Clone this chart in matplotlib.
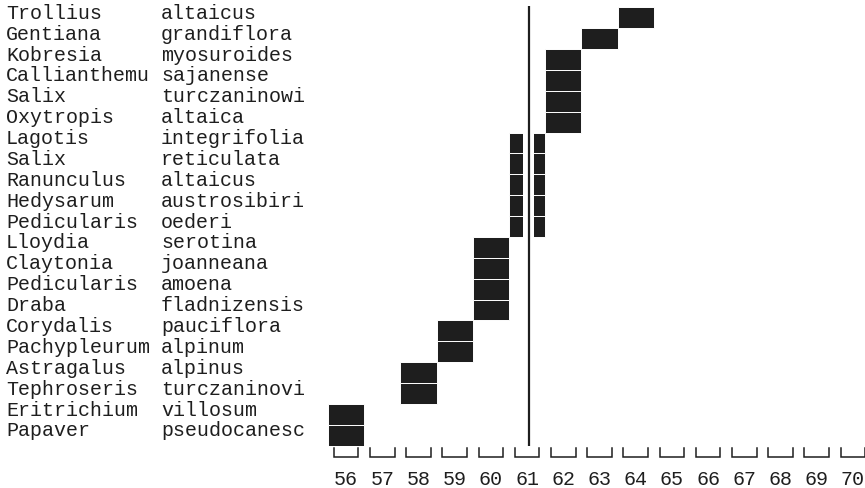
import matplotlib
matplotlib.use("Agg")
import matplotlib.pyplot as plt
import matplotlib.transforms as mtransforms

# species (genus, epithet) from top to bottom, and the column each one falls in
genera = ["Trollius", "Gentiana", "Kobresia", "Callianthemu", "Salix", "Oxytropis",
          "Lagotis", "Salix", "Ranunculus", "Hedysarum", "Pedicularis", "Lloydia",
          "Claytonia", "Pedicularis", "Draba", "Corydalis", "Pachypleurum",
          "Astragalus", "Tephroseris", "Eritrichium", "Papaver"]
epithets = ["altaicus", "grandiflora", "myosuroides", "sajanense", "turczaninowi",
            "altaica", "integrifolia", "reticulata", "altaicus", "austrosibiri",
            "oederi", "serotina", "joanneana", "amoena", "fladnizensis", "pauciflora",
            "alpinum", "alpinus", "turczaninovi", "villosum", "pseudocanesc"]
values = [64, 63, 62, 62, 62, 62, 61, 61, 61, 61, 61, 60, 60, 60, 60, 59, 59,
          58, 58, 56, 56]
ticks = list(range(56, 71))
marker_x = 61.05

W, H = 865, 488
unit = 36.2          # pixels per column
row = 20.88          # pixels per row
left_px, top_px = 328, 7.3
bottom_px = top_px + len(values) * row

mono = "Liberation Mono"
ink = "#1e1e1e"
fs = 14.4

fig = plt.figure(figsize=(W / 100, H / 100), dpi=100)
ax = fig.add_axes([left_px / W, (H - bottom_px) / H, (W - left_px) / W, bottom_px / H])
ax.set_xlim(55.5, 55.5 + (W - left_px) / unit)
ax.set_ylim(len(values) - 0.5, -0.5 - top_px / row)
for s in ax.spines.values():
    s.set_visible(False)
ax.set_yticks([])

rows = list(range(len(values)))
ax.barh(rows, 1.0, left=[v - 0.5 for v in values], height=1.0,
        color=ink, edgecolor="white", linewidth=0.7, zorder=2)

# white gap around the reference line, then the line itself
ax.axvspan(marker_x - 0.15, marker_x + 0.15, color="white", zorder=3, lw=0)
ax.vlines(marker_x, -0.55, len(values) - 0.45, color=ink, lw=1.6, zorder=4)

# bracket-shaped tick marks
y0, y1 = len(values) - 0.39, len(values) + 0.04
for t in ticks:
    ax.plot([t - 0.34, t - 0.34, t + 0.34, t + 0.34], [y0, y1, y1, y0],
            color=ink, lw=1.1, clip_on=False, solid_joinstyle="miter")

ax.set_xticks(ticks)
ax.set_xticklabels([str(t) for t in ticks], fontfamily=mono, fontsize=fs, color=ink)
ax.tick_params(axis="x", length=0, pad=17.5)

trans = mtransforms.blended_transform_factory(fig.transFigure, ax.transData)
for i, (g, e) in enumerate(zip(genera, epithets)):
    ax.text(6 / W, i + 0.05, g, transform=trans, va="baseline", ha="left",
            fontfamily=mono, fontsize=fs, color=ink, clip_on=False)
    ax.text(161 / W, i + 0.05, e, transform=trans, va="baseline", ha="left",
            fontfamily=mono, fontsize=fs, color=ink, clip_on=False)

fig.savefig("out.png", dpi=100, facecolor="white")
